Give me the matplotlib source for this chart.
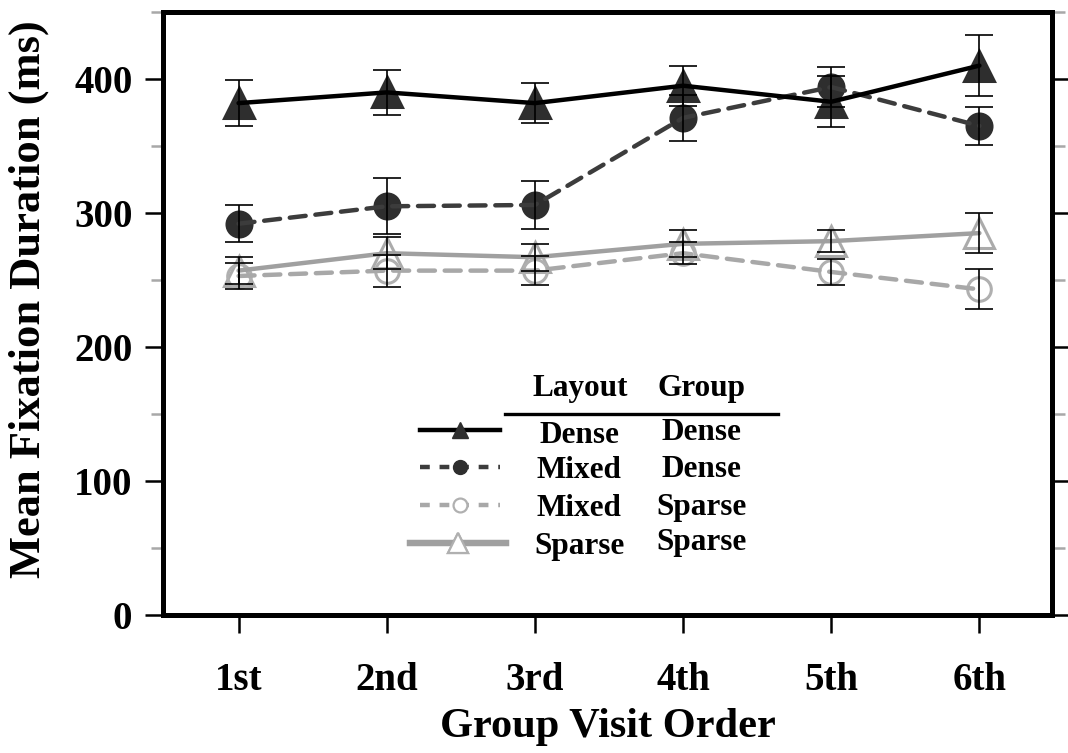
import matplotlib
matplotlib.use("Agg")
import matplotlib.pyplot as plt
from matplotlib.lines import Line2D
from matplotlib.ticker import MultipleLocator

plt.rcParams['font.family'] = ['Liberation Serif', 'DejaVu Serif']
plt.rcParams['font.weight'] = 'bold'

categories = ["1st", "2nd", "3rd", "4th", "5th", "6th"]
x = [1, 2, 3, 4, 5, 6]

dense_dense = [382, 390, 382, 395, 383, 410]
dense_dense_err = [17, 17, 15, 15, 19, 23]
mixed_dense = [292, 305, 306, 371, 394, 365]
mixed_dense_err = [14, 21, 18, 17, 15, 14]
mixed_sparse = [253, 257, 257, 270, 256, 243]
mixed_sparse_err = [10, 12, 11, 8, 10, 15]
sparse_sparse = [257, 270, 267, 277, 279, 285]
sparse_sparse_err = [10, 12, 10, 10, 8, 15]

layout_labels = ["Dense", "Mixed", "Mixed", "Sparse"]
group_labels = ["Dense", "Dense", "Sparse", "Sparse"]

fig = plt.figure(figsize=(10.68, 7.53), dpi=100)
ax = fig.add_axes([163/1068, 1-615/753, 889/1068, 603/753])

series = [
    dict(y=sparse_sparse, e=sparse_sparse_err, ls='-', lc='#a0a0a0', mk='^', mfc='none', mec='#ababab', ms=22),
    dict(y=mixed_sparse, e=mixed_sparse_err, ls=(0, (3.6, 2.2)), lc='#a8a8a8', mk='o', mfc='none', mec='#b0b0b0', ms=17),
    dict(y=mixed_dense, e=mixed_dense_err, ls=(0, (3.6, 2.2)), lc='#3c3c3c', mk='o', mfc='#2e2e2e', mec='#2e2e2e', ms=18),
    dict(y=dense_dense, e=dense_dense_err, ls='-', lc='#000000', mk='^', mfc='#2e2e2e', mec='#2e2e2e', ms=22),
]

for s in series:
    ax.plot(x, s['y'], linestyle='none', marker=s['mk'], markersize=s['ms'],
            markerfacecolor=s['mfc'], markeredgecolor=s['mec'], markeredgewidth=2.2, zorder=2)
    ax.plot(x, s['y'], linestyle=s['ls'], color=s['lc'], linewidth=3.2,
            dash_capstyle='round', solid_capstyle='round', zorder=3)
    ax.errorbar(x, s['y'], yerr=s['e'], fmt='none', ecolor='black', elinewidth=1.2,
                capsize=10, capthick=1.2, zorder=4)

ax.set_xlim(0.49, 6.49)
ax.set_ylim(0, 450)
ax.set_xticks(x)
ax.set_xticklabels(categories)
ax.yaxis.set_major_locator(MultipleLocator(100))
ax.yaxis.set_minor_locator(MultipleLocator(50))
ax.set_yticks([0, 100, 200, 300, 400])

for sp in ax.spines.values():
    sp.set_linewidth(3.6)
    sp.set_color('black')

ax.tick_params(axis='y', which='major', direction='out', length=13, width=1.8,
               color='black', labelsize=28, pad=9, right=True)
ax.tick_params(axis='y', which='minor', direction='out', length=9, width=1.8,
               color='#a8a8a8', right=True)
ax.tick_params(axis='x', which='major', direction='out', length=13, width=1.8,
               color='black', labelsize=28, pad=21)
for lab in ax.get_xticklabels() + ax.get_yticklabels():
    lab.set_fontweight('bold')

ax.set_xlabel("Group Visit Order", fontsize=30.5, fontweight='bold', labelpad=6)
ax.set_ylabel("Mean Fixation Duration (ms)", fontsize=32, fontweight='bold')
ax.yaxis.set_label_coords(-0.128, 0.524)

# legend: handles
handles = [
    Line2D([], [], color='#000000', linestyle='-', linewidth=3.2, marker='^', markersize=11,
           markerfacecolor='#2e2e2e', markeredgecolor='#2e2e2e'),
    Line2D([], [], color='#3c3c3c', linestyle=(0, (2.2, 2.2)), linewidth=3.2, marker='o', markersize=10,
           markerfacecolor='#2e2e2e', markeredgecolor='#2e2e2e'),
    Line2D([], [], color='#a8a8a8', linestyle=(0, (2.2, 2.2)), linewidth=3.2, marker='o', markersize=10,
           markerfacecolor='white', markeredgecolor='#b0b0b0', markeredgewidth=1.6),
    Line2D([], [], color='#a0a0a0', linestyle='-', linewidth=4.5, marker='^', markersize=15,
           markerfacecolor='white', markeredgecolor='#b0b0b0', markeredgewidth=1.6),
]
row_y_handles = [0.302, 0.242, 0.179, 0.116]
for h, yy in zip(handles, row_y_handles):
    leg = ax.legend(handles=[h], labels=[""], loc='center left', bbox_to_anchor=(0.289 if h is not handles[3] else 0.278, yy),
                    frameon=False, handlelength=3.6 if h is not handles[3] else 4.3, handletextpad=0,
                    borderpad=0, borderaxespad=0, fontsize=16)
    ax.add_artist(leg)

fs_leg = 22.5
ax.text(0.469, 0.376, "Layout", transform=ax.transAxes, ha='center', va='center', fontsize=fs_leg, fontweight='bold')
ax.text(0.606, 0.376, "Group", transform=ax.transAxes, ha='center', va='center', fontsize=fs_leg, fontweight='bold')
ax.plot([0.385, 0.692], [0.333, 0.333], transform=ax.transAxes, color='black', linewidth=2.4, clip_on=False)

layout_y = [0.2985, 0.239, 0.176, 0.113]
group_y = [0.302, 0.242, 0.179, 0.121]
for lab, yy in zip(layout_labels, layout_y):
    ax.text(0.468, yy, lab, transform=ax.transAxes, ha='center', va='center', fontsize=fs_leg, fontweight='bold')
for lab, yy in zip(group_labels, group_y):
    ax.text(0.606, yy, lab, transform=ax.transAxes, ha='center', va='center', fontsize=fs_leg, fontweight='bold')

fig.savefig("out.png", dpi=100)
